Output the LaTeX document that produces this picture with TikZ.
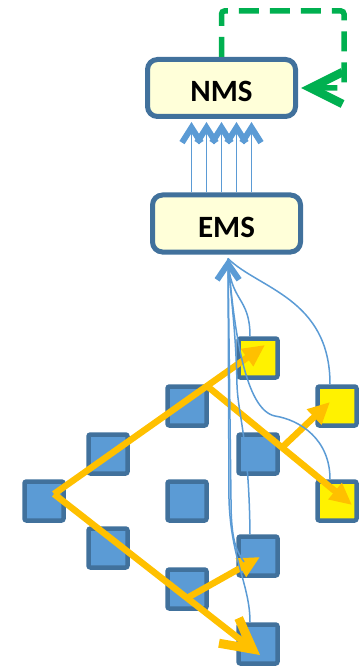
\documentclass[tikz,border=0pt]{standalone}
\usepackage{fontspec}
\setmainfont{Carlito}
\usetikzlibrary{arrows.meta, calc}

\definecolor{neblue}{HTML}{5B9BD5}
\definecolor{nedark}{HTML}{41719C}
\definecolor{mgrfill}{HTML}{FFFFD9}
\definecolor{flowgold}{HTML}{FFC000}
\definecolor{loopgreen}{HTML}{00B050}

\tikzstyle{mgr}=[draw=nedark, line width=5pt, fill=mgrfill, rounded corners=10pt, minimum width=148pt, minimum height=57pt, text height=28pt, text depth=0pt, font=\fontsize{31}{31}\selectfont\bfseries]
\tikzstyle{ne}=[draw=nedark, line width=4.5pt, fill=neblue, rounded corners=2pt, minimum size=39pt, inner sep=0pt]
\tikzstyle{alarm}=[ne, fill=yellow]
\tikzstyle{feed}=[-{Straight Barb[length=15pt, width=19pt, line width=6pt 0]}, neblue, line width=1.8pt]
\tikzstyle{loopback}=[-{Straight Barb[length=32pt, width=32pt, line width=8.5pt 0]}, loopgreen, line width=5.5pt, dash pattern=on 20pt off 11pt, rounded corners=3pt]
\tikzstyle{flow}=[-{Triangle[length=22pt, width=20pt]}, flowgold, line width=6.5pt]
\tikzstyle{flowend}=[-{Straight Barb[length=30pt, width=32pt, line width=9pt 0]}, flowgold, line width=6.5pt]
\tikzstyle{report}=[neblue, line width=1.5pt]

\begin{document}
\begin{tikzpicture}[x=1pt, y=-1pt]
    \useasboundingbox (0,0) rectangle (360,668);
    \node[mgr] (nms) at (221.5, 88) {NMS};
    \node[mgr] (ems) at (226.5, 223.5) {EMS};
    \coordinate (turn) at (344, 11);
    \foreach \dx in {-30,-15,0,15,30}
      \draw[feed] ([xshift=\dx pt]nms.south |- ems.north) -- ([xshift=\dx pt, yshift=-3pt]nms.south);
    \draw[loopback] (nms.north) |- (turn) |- ([xshift=3pt]nms.east);
    \node[ne] (ne0) at (44, 501) {};
    \node[ne] (ne1) at (108, 454) {};
    \node[ne] (ne2) at (187, 406) {};
    \node[alarm] (ne3) at (258, 358) {};
    \node[ne] (ne4) at (187, 501) {};
    \node[ne] (ne5) at (258, 454) {};
    \node[alarm] (ne6) at (337, 406) {};
    \node[alarm] (ne7) at (337, 501) {};
    \node[ne] (ne8) at (108, 548) {};
    \node[ne] (ne9) at (187, 589) {};
    \node[ne] (ne10) at (258, 556) {};
    \node[ne] (ne11) at (258, 644) {};
    \coordinate (apex) at ([shift={(10,-7)}]ne0.center);
    \coordinate (tip3) at ([shift={(7,-13)}]ne3.center);
    \coordinate (tip6) at ([shift={(-7,-4)}]ne6.center);
    \coordinate (tip7) at ([shift={(15,4)}]ne7.center);
    \coordinate (tip10) at ([shift={(2,1)}]ne10.center);
    \coordinate (tip11) at ([shift={(2,11)}]ne11.center);
    \coordinate (fork2) at ($(apex)!0.725!(tip3)$);
    \coordinate (fork5) at ($(fork2)!0.517!(tip7)$);
    \coordinate (fork9) at ($(apex)!0.646!(tip11)$);
    \draw[flow] (apex) -- (tip3);
    \draw[flowend] (apex) -- (tip11);
    \draw[flow] (fork2) -- (tip7);
    \draw[flow] (fork5) -- (tip6);
    \draw[flow] (fork9) -- (tip10);
    \coordinate (hub) at ([shift={(1.5,4)}]ems.south);
    \draw[report] ([xshift=-8pt]ne3.north) .. controls +(0,-40) and +(2,44) .. (hub);
    \draw[report] ([xshift=-7pt]ne6.north) .. controls +(0,-86) and +(30,30) .. (hub);
    \draw[report] ([xshift=-7pt]ne7.north) .. controls +(0,-40) and (300,420) .. (275,416) .. controls (245,410) and (234,330) .. (hub);
    \draw[report] ([xshift=-8pt]ne10.north) .. controls (249,440) and (238,415) .. (237,385) .. controls (236,330) and (230,290) .. (hub);
    \draw[report] ([shift={(-14,6)}]ne10.center) .. controls (236,550) and (231,540) .. (231,500) -- (hub);
    \draw[report, -{Straight Barb[length=16pt, width=22pt, line width=6pt 0]}] ([xshift=-8pt]ne11.north) .. controls (250,585) and (231,560) .. (229,500) -- (hub);
\end{tikzpicture}
\end{document}
